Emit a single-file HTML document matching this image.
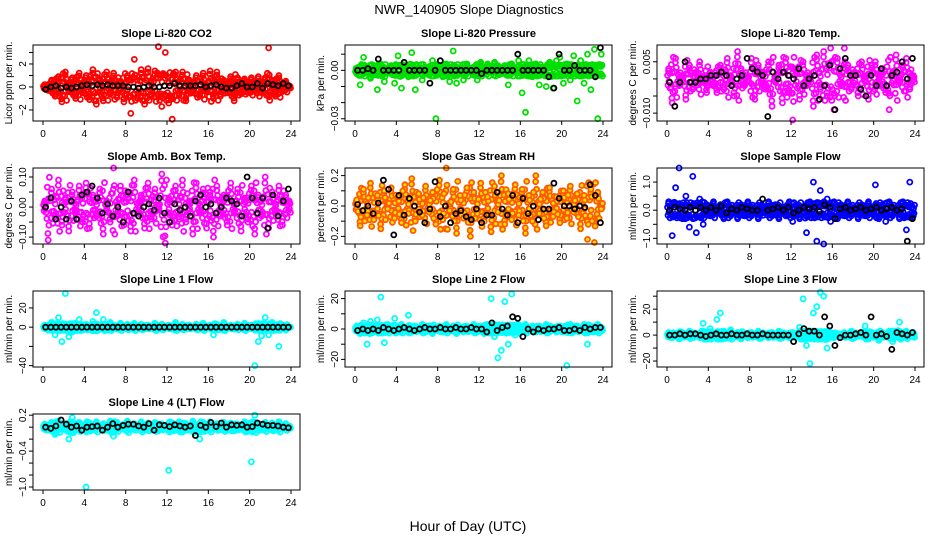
<!DOCTYPE html>
<html><head><meta charset="utf-8"><style>
html,body{margin:0;padding:0;background:#fff;}
svg{display:block;font-family:"Liberation Sans",Arial,sans-serif;}
</style></head><body>
<svg id="chart" width="936" height="540" viewBox="0 0 936 540" xmlns="http://www.w3.org/2000/svg">
<text x="469" y="14" text-anchor="middle" font-size="13">NWR_140905  Slope Diagnostics</text>
<text x="468" y="531" text-anchor="middle" font-size="14">Hour of Day (UTC)</text>
</svg>
<script>
const xTicks = [0,4,8,12,16,20,24];
const co2Color = [0.2,-0.3,0.6,-0.8,0.9,-1.3,1.3,-0.4,0.8,-1.0,1.2,-0.5,1.0,-1.1,1.5,-1.5,0.7,-1.2,1.3,-0.6,1.2,-0.9,0.5,-1.3,1.0,-2.3,2.4,-1.0,1.5,-1.5,1.6,-0.8,1.4,3.5,-1.7,3.0,-1.4,-2.8,1.3,-0.7,1.3,-1.2,0.6,-0.5,1.0,-0.8,1.2,-0.4,1.4,-1.0,1.3,-0.8,0.6,-0.5,0.9,-1.2,0.8,-0.6,0.7,-0.5,0.8,-0.4,0.9,-0.5,0.8,3.4,0.6,-0.8,1.0,-0.4,0.5,0.1];
const co2Black = [-0.2,0,0.1,-0.1,0,-0.1,0,0.1,0.2,0.1,0.2,0.1,0.2,0.1,0.1,0.1,0,0,-0.1,0,0.1,0,0,0.1,0.1,0.3,0.1,0.1,0.1,0.1,0.2,0,0.1,0.2,0,-0.1,-0.1,0.1,0.3,0,0,0.3,-0.1,0.3,0.2,0.1,0.3,0.1];
const presColor = [-0.002,-0.009,0.008,0.002,-0.005,0.003,-0.012,0.004,-0.007,-0.001,0.003,-0.008,0.009,-0.011,0.002,-0.004,0.011,-0.012,0.001,-0.006,0.002,-0.003,0.006,-0.030,0.002,-0.004,0.004,-0.007,0.012,-0.008,0.001,-0.006,0.004,0.000,-0.003,-0.006,0.005,-0.002,0.004,-0.001,0.005,0.003,-0.002,0.003,-0.009,0.004,0.001,0.006,-0.014,-0.026,0.006,-0.004,0.004,-0.009,0.002,-0.010,0.005,-0.011,0.006,0.008,-0.008,0.004,-0.006,0.009,-0.019,0.006,-0.008,0.010,-0.012,0.013,-0.030,0.010];
const presBlack = [0,0,0.001,0,0.007,0,0,0,0,0.005,0,0,0,0,-0.008,0,0.006,0,0,0,0,0,0,0,-0.002,0,0,0,0,0,0,0.010,0,0,0,0,0,-0.004,-0.011,0.010,0,0,0.003,0,0,0,-0.004,0.014];
const tempColor = [0.003,-0.007,0.006,-0.002,0.001,-0.006,0.004,-0.003,0.002,0.005,-0.001,-0.004,0.002,-0.002,-0.004,0.004,-0.003,0.006,0.001,-0.005,0.008,0.003,-0.002,0.001,0.006,-0.006,0.004,0.002,-0.003,0.005,-0.008,-0.001,0.004,-0.007,0.006,-0.004,-0.012,0.003,-0.006,0.005,-0.002,0.001,-0.008,0.007,-0.003,0.008,-0.005,0.009,-0.009,0.006,-0.002,0.009,0.004,-0.003,0.002,-0.005,0.005,0.001,-0.006,0.004,0.005,-0.002,0.003,-0.004,-0.009,0.002,0.007,-0.001,0.004,0.006,-0.003,0.001];
const tempBlack = [-0.001,-0.008,-0.001,0.005,-0.001,-0.001,0.0,0.0,0.001,0.001,0.002,0.001,-0.002,0.0,0.001,0.006,0.003,0.002,0.001,-0.011,0.002,0.0,0.002,0.001,0.0,0.003,-0.002,0.0,0.001,-0.006,-0.002,0.004,-0.009,0.003,0.006,0.001,0.001,-0.003,-0.005,0.001,-0.002,0.003,-0.002,0.001,0.002,0.005,0.0,0.006];
const boxColor = [0.02,-0.11,0.06,-0.04,0.09,-0.06,0.03,-0.08,0.05,-0.02,0.07,-0.05,0.08,-0.07,0.04,-0.03,0.06,-0.09,0.02,-0.05,0.13,-0.03,0.07,-0.06,0.05,-0.08,0.09,-0.02,0.04,-0.07,0.08,-0.04,0.06,-0.01,0.11,-0.12,0.03,-0.06,0.07,-0.04,0.09,-0.05,0.02,-0.09,0.08,-0.02,0.06,-0.07,0.05,-0.10,0.07,-0.03,0.04,-0.06,0.08,-0.02,0.06,-0.08,0.03,-0.05,0.07,-0.09,0.04,-0.03,0.10,-0.07,0.05,-0.02,0.07,-0.06,0.04,0.02];
const boxBlack = [0,0.03,-0.04,0,-0.04,0.02,-0.04,0.04,0.05,0.07,0.03,-0.02,0.01,-0.03,0.00,-0.05,0.05,-0.02,-0.03,0.0,0.01,-0.01,0.03,-0.02,-0.05,0.01,-0.01,0.0,-0.03,0.02,0.04,0.0,0.01,-0.02,0.0,0.03,0.02,0.01,-0.03,0.10,0.03,-0.02,0.03,-0.07,0.04,-0.03,0.02,0.06];
const rhColor = [0.04,-0.13,0.11,-0.06,0.15,-0.09,0.07,-0.15,0.10,-0.02,0.12,-0.08,0.06,-0.11,0.14,-0.05,0.18,-0.10,0.08,-0.06,0.13,-0.04,0.09,-0.12,0.17,-0.09,0.25,-0.03,0.11,-0.18,0.07,-0.08,0.12,-0.20,0.09,-0.05,0.15,-0.10,0.06,-0.17,0.13,-0.04,0.20,-0.12,0.08,-0.09,0.14,-0.06,0.11,-0.18,0.07,-0.10,0.20,-0.05,0.09,-0.13,0.12,-0.07,0.06,-0.11,0.10,-0.08,0.13,-0.04,0.08,-0.15,0.07,-0.22,0.11,-0.24,0.09,-0.02];
const rhBlack = [0.01,-0.03,0.0,-0.05,0.02,0.17,0.11,-0.19,0.07,-0.06,0.05,0.0,-0.04,-0.11,-0.02,0.16,-0.07,0.0,-0.11,-0.05,-0.03,-0.07,-0.09,-0.02,-0.11,-0.06,-0.06,0.09,-0.02,-0.06,0.07,-0.11,0.05,-0.05,0.0,-0.09,-0.02,-0.02,0.15,0.05,0.0,0.0,-0.02,0.0,-0.01,0.14,0.07,-0.11];
const flowColor = [0.3,-0.9,0.8,1.5,-0.3,0.5,-0.6,1.2,-0.8,0.4,-0.5,0.2,-0.2,0.3,-0.1,0.2,-0.3,0.3,-0.2,0.1,-0.3,0.2,-0.2,0.3,-0.2,0.1,-0.3,0.2,-0.1,0.3,-0.2,0.2,-0.3,0.1,-0.2,0.3,-0.4,0.2,-0.3,0.1,-0.8,0.3,1.0,-1.1,0.7,-1.2,0.4,-0.4,0.3,-0.3,0.2,-0.2,0.3,-0.2,0.1,-0.3,0.2,-0.2,0.3,-0.1,0.9,-0.3,0.2,-0.4,0.3,-0.2,0.1,-0.3,0.3,-0.7,1.0,-0.2];
const flowBlack = [0.0,0.1,0.05,0.0,0.1,0.0,0.1,0.0,0.1,0.0,0.15,-0.1,0.05,0.0,0.1,0.05,0.0,0.0,0.4,0.0,0.05,0.1,0.0,0.1,-0.1,0.0,0.1,0.05,0.1,-0.05,0.2,0.1,-0.3,0.05,0.1,0.0,0.05,0.1,0.0,0.05,0.1,0.0,0.05,0.1,0.0,0.05,-1.1,-0.3];
const line1Color = [2,-3,5,-8,10,-15,35,-10,-5,4,8,-3,3,-2,6,15,-2,8,-3,5,2,-2,4,-1,3,-2,4,-1,3,-2,2,-1,4,-2,3,-1,2,-2,5,-1,3,-2,2,-1,3,-2,4,-1,2,-8,3,-2,5,-1,2,-2,3,-1,4,-2,2,-40,-15,-9,10,-8,5,-3,-20,2,-3,0];
const line1Black = [0,0,0,0,0,0,0,0,0,0,0,0,0,0,0,0,0,0,0,0,0,0,0,0,0,0,0,0,0,0,0,0,0,0,0,0,0,0,0,0,0,0,0,0,0,0,0,0];
const line2Color = [2,-3,4,-10,5,-2,6,21,-9,3,-1,7,-2,3,-1,9,-2,2,-1,3,-2,2,-3,1,2,-2,3,-1,2,-3,1,-2,2,-1,3,-2,2,-3,3,20,-5,-19,-14,18,-10,23,-4,3,-2,3,-1,2,-2,2,-1,3,-2,1,-2,2,-2,-24,3,-2,2,-1,3,-10,2,-2,3,1];
const line2Black = [-1,0,-1,0,-1,1,0,-1,0,1,0,-1,0,1,0,0,1,0,0,1,0,0,1,0,0,-2,4,-1,1,2,8,7,-5,0,-2,0,-1,0,0,1,-1,-1,0,-1,1,0,1,1];
const line3Color = [2,-2,1,-3,2,-1,3,-2,1,-2,9,-3,5,-1,12,17,3,-2,4,-1,2,-3,1,-2,2,-1,3,-2,1,-2,2,-1,3,-2,1,-2,2,-1,6,28,-8,-22,17,22,33,30,-10,2,-2,1,-1,2,-1,3,-2,1,-1,7,-3,2,1,-4,2,-1,3,-5,1,10,-2,3,-1,2];
const line3Black = [0,0,1,0,1,1,0,-1,0,1,0,0,1,0,0,1,0,0,1,0,0,0,0,0,-5,1,5,3,3,0,14,7,-8,-2,0,0,1,2,0,14,0,1,-1,-11,2,1,0,2];
const line4Color = [0.05,-0.05,0.08,-0.12,0.1,-0.03,0.06,-0.2,0.16,-0.04,0.08,-0.05,-1.0,0.07,-0.04,0.09,-0.02,0.06,-0.05,0.10,-0.15,0.08,-0.03,0.05,0.1,-0.04,0.06,-0.02,0.09,-0.05,0.07,-0.03,0.08,-0.06,0.05,-0.02,-0.72,0.07,-0.05,0.09,-0.08,0.06,-0.03,0.10,-0.04,-0.2,0.08,-0.05,0.09,-0.03,0.06,-0.04,0.08,-0.05,0.07,-0.06,0.05,-0.03,0.09,-0.07,-0.58,0.2,0.06,-0.04,0.08,-0.03,0.07,-0.05,0.09,-0.02,0.06,0.02];
const line4Black = [0.0,-0.02,0.02,0.12,0.05,0.0,0.02,-0.05,0.0,0.01,0.02,-0.05,0.0,0.06,0.0,0.03,0.05,0.05,0.02,0.0,0.06,-0.05,0.04,0.03,0.01,0.04,0.02,0.0,0.02,-0.14,0.03,0.0,0.08,0.01,0.07,0.0,0.04,0.03,0.04,0.0,0.01,0.07,0.05,0.03,0.03,0.02,0.0,-0.01];
const coreFactors = [0.35,-0.6,0.8,-0.25,0.55,-0.9];

const panels = [
 {id:'co2',title:'Slope Li-820 CO2',ylab:'Licor ppm per min.',col:0,row:0,ymin:-2.96,ymax:3.65,core:1.3,ticks:[-2,-1,0,1,2,3],labels:[[-2,'\u22122'],[0,'0'],[2,'2']],color:'#ff0000',fill:'none',c:co2Color,b:co2Black},
 {id:'pressure',title:'Slope Li-820 Pressure',ylab:'kPa per min.',col:1,row:0,ymin:-0.0314,ymax:0.0157,core:0.004,ticks:[0.01,0,-0.01,-0.02,-0.03],labels:[[0,'0.00'],[-0.03,'\u22120.03']],color:'#00e000',fill:'none',c:presColor,b:presBlack},
 {id:'li820-temp',title:'Slope Li-820 Temp.',ylab:'degrees C per min.',col:2,row:0,ymin:-0.0123,ymax:0.0099,core:0.007,ticks:[0.005,0,-0.005,-0.01],labels:[[0.005,'0.005'],[-0.01,'\u22120.010']],color:'#ff00ff',fill:'none',c:tempColor,b:tempBlack},
 {id:'amb-box-temp',title:'Slope Amb. Box Temp.',ylab:'degrees C per min.',col:0,row:1,ymin:-0.123,ymax:0.13,core:0.1,ticks:[0.1,0.05,0,-0.05,-0.1],labels:[[0.1,'0.10'],[0,'0.00'],[-0.1,'\u22120.10']],color:'#ff00ff',fill:'none',c:boxColor,b:boxBlack},
 {id:'gas-stream-rh',title:'Slope Gas Stream RH',ylab:'percent per min.',col:1,row:1,ymin:-0.25,ymax:0.25,core:0.17,ticks:[0.2,0.1,0,-0.1,-0.2],labels:[[0.2,'0.2'],[0,'0.0'],[-0.2,'\u22120.2']],color:'#ff5a00',fill:'#ffe000',c:rhColor,b:rhBlack},
 {id:'sample-flow',title:'Slope Sample Flow',ylab:'ml/min per min.',col:2,row:1,ymin:-1.2,ymax:1.5,core:0.3,ticks:[1,0.5,0,-0.5,-1],labels:[[1,'1.0'],[0,'0.0'],[-1,'\u22121.0']],color:'#0000ff',fill:'none',c:flowColor,b:flowBlack},
 {id:'line1-flow',title:'Slope Line 1 Flow',ylab:'ml/min per min.',col:0,row:2,ymin:-41.4,ymax:37.6,core:4,ticks:[20,0,-20,-40],labels:[[20,'20'],[0,'0'],[-40,'\u221240']],color:'#00ffff',fill:'none',c:line1Color,b:line1Black},
 {id:'line2-flow',title:'Slope Line 2 Flow',ylab:'ml/min per min.',col:1,row:2,ymin:-25,ymax:25,core:3,ticks:[20,10,0,-10,-20],labels:[[20,'20'],[0,'0'],[-20,'\u221220']],color:'#00ffff',fill:'none',c:line2Color,b:line2Black},
 {id:'line3-flow',title:'Slope Line 3 Flow',ylab:'ml/min per min.',col:2,row:2,ymin:-24.6,ymax:34,core:3.5,ticks:[30,20,10,0,-10,-20],labels:[[20,'20'],[0,'0'],[-20,'\u221220']],color:'#00ffff',fill:'none',c:line3Color,b:line3Black},
 {id:'line4-flow',title:'Slope Line 4 (LT) Flow',ylab:'ml/min per min.',col:0,row:3,ymin:-1.05,ymax:0.22,core:0.1,ticks:[0.2,0,-0.2,-0.4,-0.6,-0.8,-1.0],labels:[[0.2,'0.2'],[-0.4,'\u22120.4'],[-1.0,'\u22121.0']],color:'#00ffff',fill:'none',c:line4Color,b:line4Black}
];

const NS='http://www.w3.org/2000/svg';
const svg=document.getElementById('chart');
function mk(tag,attrs,parent){const e=document.createElementNS(NS,tag);for(const k in attrs)e.setAttribute(k,attrs[k]);(parent||svg).appendChild(e);return e;}

panels.forEach(p=>{
  const L=33+312*p.col, R=300+312*p.col, T=45+123*p.row, B=121+123*p.row;
  const x0=43+312*p.col, x24=291+312*p.col;
  const xs=h=>x0+(x24-x0)*h/24;
  const ys=v=>B-(v-p.ymin)/(p.ymax-p.ymin)*(B-T);
  const g=mk('g',{});
  
  
  const t=mk('text',{x:(L+R)/2,y:T-8,'text-anchor':'middle','font-size':'11','font-weight':'bold'},g);
  t.textContent=p.title;
  
  
  const yl=mk('text',{x:0,y:0,'text-anchor':'middle','font-size':'10',transform:`translate(${L-21},${(T+B)/2}) rotate(-90)`},g);
  yl.textContent=p.ylab;
  
  
  const pts=mk('g',{},g);
  
  
  const nc=p.c.length;
  // dense core cloud derived from the series
  coreFactors.forEach((f,k)=>{
    p.c.forEach((v,i)=>{
      const h=(i+(k+1)/(coreFactors.length+1))*24/nc;
      let cv=v*f; if(Math.abs(cv)>p.core) cv=Math.sign(cv)*p.core*(0.4+0.1*k);
      const c=mk('circle',{cx:xs(h).toFixed(1),cy:ys(cv).toFixed(1),r:2.5,fill:p.fill,stroke:p.color,'stroke-width':1.8},pts);
      
      
    });
  });
  p.c.forEach((v,i)=>{
    const h=(i+0.5)*24/nc;
    const c=mk('circle',{cx:xs(h).toFixed(1),cy:ys(v).toFixed(1),r:2.5,fill:p.fill,stroke:p.color,'stroke-width':1.8},pts);
    
    
  });
  const nb=p.b.length;
  p.b.forEach((v,i)=>{
    const h=(i+0.5)*24/nb;
    const c=mk('circle',{cx:xs(h).toFixed(1),cy:ys(v).toFixed(1),r:2.5,fill:'none',stroke:'#000','stroke-width':1.8},pts);
    
    
  });
  const box=mk('rect',{x:L,y:T,width:R-L,height:B-T,fill:'none',stroke:'#000','stroke-width':1},g);
  
  
  mk('line',{x1:xs(0),x2:xs(24),y1:B,y2:B,stroke:'#000'},g);
  xTicks.forEach(h=>{
    mk('line',{x1:xs(h),x2:xs(h),y1:B,y2:B+4,stroke:'#000'},g);
    const tl=mk('text',{x:xs(h),y:B+16,'text-anchor':'middle','font-size':'10'},g);
    tl.textContent=h;
    
    
  });
  p.ticks.forEach(v=>{mk('line',{x1:L-4,x2:L,y1:ys(v),y2:ys(v),stroke:'#000'},g);});
  p.labels.forEach(([v,s])=>{
    const tl=mk('text',{x:0,y:0,'text-anchor':'middle','font-size':'10',transform:`translate(${L-7},${ys(v)}) rotate(-90)`},g);
    tl.textContent=s;
    
    
  });
});
</script>
</body></html>
